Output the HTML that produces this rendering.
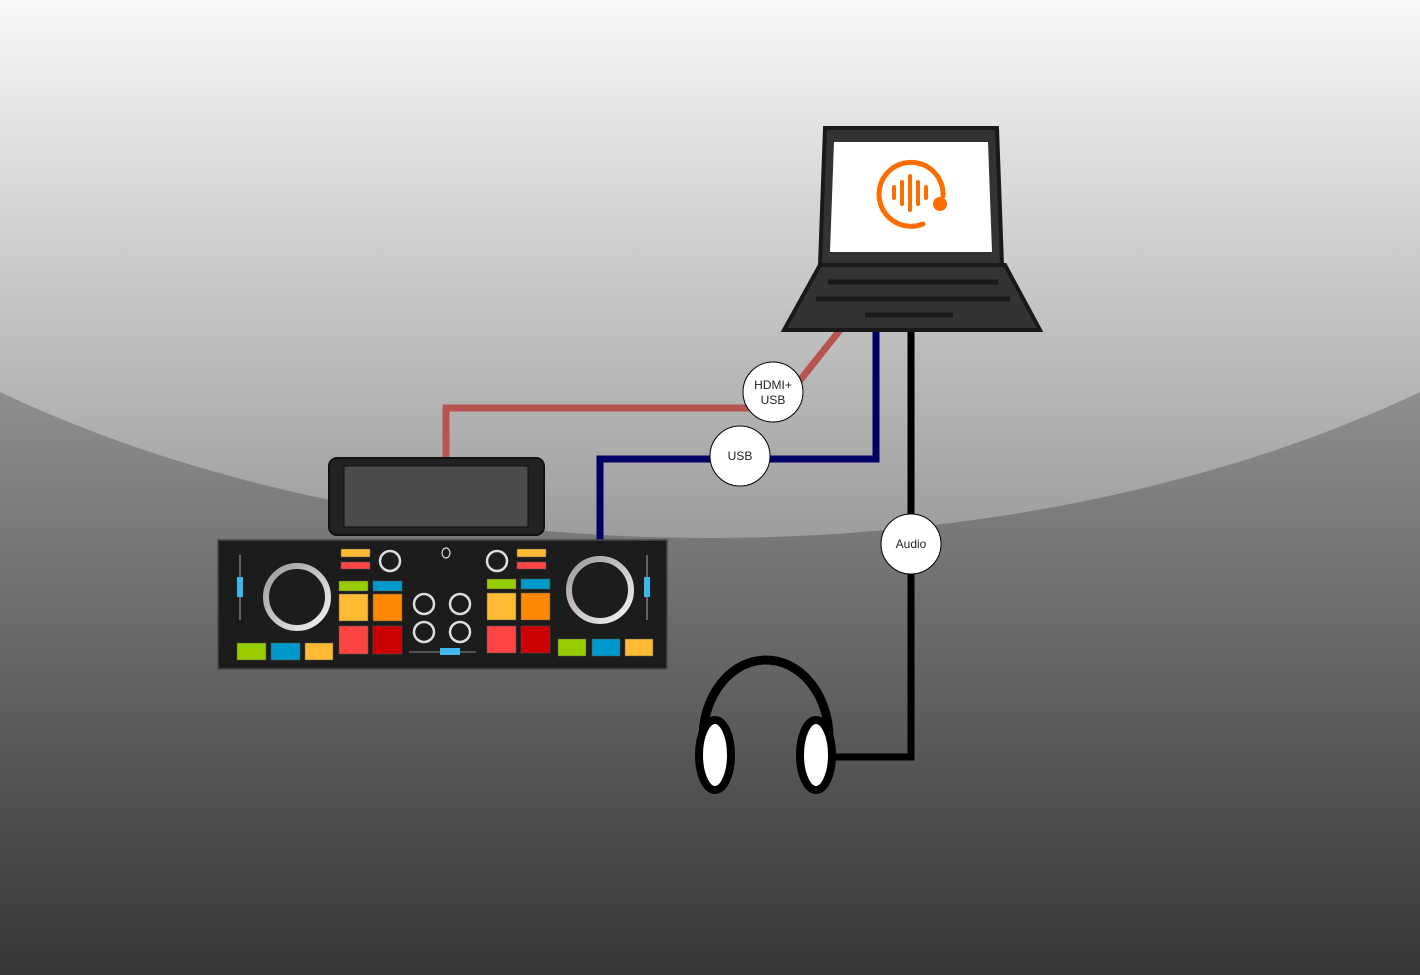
<!DOCTYPE html>
<html><head><meta charset="utf-8"><style>html,body{margin:0;padding:0;overflow:hidden}svg{display:block}text{font-family:"Liberation Sans",Arial,sans-serif;font-size:12px;fill:#222}</style></head>
<body>
<svg width="1420" height="975" viewBox="0 0 1420 975" xmlns="http://www.w3.org/2000/svg">
<defs>
<linearGradient id="lo" x1="0" y1="0" x2="0" y2="975" gradientUnits="userSpaceOnUse"><stop offset="0.4" stop-color="#8e8e8e"/><stop offset="1" stop-color="#363636"/></linearGradient>
<linearGradient id="up" x1="0" y1="0" x2="0" y2="540" gradientUnits="userSpaceOnUse"><stop offset="0" stop-color="#f8f8f8"/><stop offset="1" stop-color="#9c9c9c"/></linearGradient>
<linearGradient id="jog" x1="0" y1="0" x2="1" y2="1"><stop offset="0" stop-color="#9a9a9a"/><stop offset="1" stop-color="#f4f4f4"/></linearGradient>
</defs>
<rect width="1420" height="975" fill="url(#lo)"/>
<ellipse cx="710" cy="-80" rx="1100" ry="618" fill="url(#up)"/>
<!-- cables -->
<polyline points="840,330 778,408 446,408 446,460" fill="none" stroke="#b85450" stroke-width="7"/>
<polyline points="876,330 876,459 600,459 600,541" fill="none" stroke="#000066" stroke-width="7"/>
<polyline points="911,330 911,757 835,757" fill="none" stroke="#000" stroke-width="7"/>
<!-- laptop -->
<polygon points="825,128 997,128 1002,265 820,265" fill="#333" stroke="#1a1a1a" stroke-width="4"/>
<polygon points="834,142 988,142 992,252 830,252" fill="#fff"/>
<polygon points="820,265 1005,265 1040,330 784,330" fill="#333" stroke="#1a1a1a" stroke-width="4"/>
<line x1="828" y1="282" x2="998" y2="282" stroke="#1a1a1a" stroke-width="5"/>
<line x1="816" y1="299" x2="1010" y2="299" stroke="#1a1a1a" stroke-width="5"/>
<line x1="865" y1="315" x2="953" y2="315" stroke="#1a1a1a" stroke-width="5"/>
<path d="M923,224 A32,32 0 1 1 943,196" fill="none" stroke="#ff6d00" stroke-width="5" stroke-linecap="round"/>
<circle cx="940" cy="204" r="7" fill="#ff6d00"/>
<g stroke="#ff6d00" stroke-width="4" stroke-linecap="round">
<line x1="894" y1="187" x2="894" y2="198"/><line x1="902" y1="182" x2="902" y2="204"/><line x1="910" y1="176" x2="910" y2="210"/><line x1="918" y1="182" x2="918" y2="204"/><line x1="926" y1="187" x2="926" y2="198"/>
</g>
<!-- tablet -->
<rect x="329" y="458" width="215" height="77" rx="8" fill="#222" stroke="#111" stroke-width="2"/>
<rect x="344" y="466" width="184" height="61" fill="#4b4b4b" stroke="#111"/>
<!-- controller -->
<rect x="218" y="540" width="449" height="129" fill="#1c1c1c" stroke="#4a4a4a" stroke-width="1.5"/>
<line x1="240" y1="555" x2="240" y2="620" stroke="#aaa"/><rect x="237" y="577" width="6" height="20" fill="#3db8e8"/>
<line x1="647" y1="555" x2="647" y2="620" stroke="#aaa"/><rect x="644" y="577" width="6" height="20" fill="#3db8e8"/>
<circle cx="297" cy="597" r="31" fill="none" stroke="url(#jog)" stroke-width="6"/>
<circle cx="600" cy="590" r="31" fill="none" stroke="url(#jog)" stroke-width="6"/>
<g stroke="#555" stroke-width="0.5">
<rect x="237" y="643" width="29" height="17" fill="#99cc00"/><rect x="271" y="643" width="29" height="17" fill="#0099cc"/><rect x="305" y="643" width="28" height="17" fill="#ffbb33"/>
<rect x="558" y="639" width="28" height="17" fill="#99cc00"/><rect x="592" y="639" width="28" height="17" fill="#0099cc"/><rect x="625" y="639" width="28" height="17" fill="#ffbb33"/>
<rect x="341" y="549" width="29" height="8" fill="#ffbb33"/><rect x="341" y="562" width="29" height="7" fill="#ff4444"/>
<rect x="339" y="581" width="29" height="10" fill="#99cc00"/><rect x="373" y="581" width="29" height="10" fill="#0099cc"/>
<rect x="339" y="594" width="29" height="27" fill="#ffbb33"/><rect x="373" y="594" width="29" height="27" fill="#ff8800"/>
<rect x="339" y="626" width="29" height="28" fill="#ff4444"/><rect x="373" y="626" width="29" height="28" fill="#cc0000"/>
<rect x="517" y="549" width="29" height="8" fill="#ffbb33"/><rect x="517" y="562" width="29" height="7" fill="#ff4444"/>
<rect x="487" y="579" width="29" height="10" fill="#99cc00"/><rect x="521" y="579" width="29" height="10" fill="#0099cc"/>
<rect x="487" y="593" width="29" height="27" fill="#ffbb33"/><rect x="521" y="593" width="29" height="27" fill="#ff8800"/>
<rect x="487" y="626" width="29" height="27" fill="#ff4444"/><rect x="521" y="626" width="29" height="27" fill="#cc0000"/>
</g>
<g fill="none" stroke="#ddd" stroke-width="2.5">
<circle cx="390" cy="561" r="10"/><circle cx="497" cy="561" r="10"/>
<circle cx="424" cy="604" r="10"/><circle cx="460" cy="604" r="10"/><circle cx="424" cy="632" r="10"/><circle cx="460" cy="632" r="10"/>
<ellipse cx="446" cy="553" rx="4" ry="5" stroke-width="1.2"/>
</g>
<line x1="409" y1="652" x2="476" y2="652" stroke="#888"/><rect x="440" y="648" width="20" height="7" fill="#3db8e8"/>
<!-- headphones -->
<path d="M703,738 A63,78 0 0 1 829,738" fill="none" stroke="#000" stroke-width="9"/>
<ellipse cx="715" cy="755" rx="16" ry="35" fill="#fff" stroke="#000" stroke-width="8"/>
<ellipse cx="816" cy="755" rx="16" ry="35" fill="#fff" stroke="#000" stroke-width="8"/>
<!-- labels -->
<circle cx="773" cy="392" r="30" fill="#fff" stroke="#000"/>
<text x="773" y="389" text-anchor="middle">HDMI+</text><text x="773" y="404" text-anchor="middle">USB</text>
<circle cx="740" cy="456" r="30" fill="#fff" stroke="#000"/>
<text x="740" y="460" text-anchor="middle">USB</text>
<circle cx="911" cy="544" r="30" fill="#fff" stroke="#000"/>
<text x="911" y="548" text-anchor="middle">Audio</text>
</svg>
</body></html>
